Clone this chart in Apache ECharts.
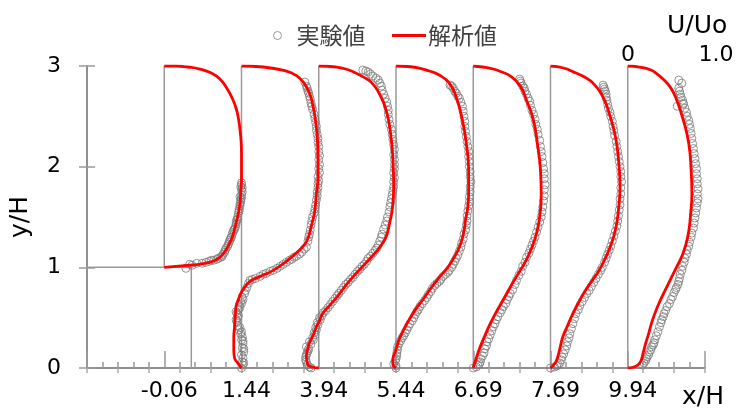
<!DOCTYPE html>
<html><head><meta charset="utf-8">
<script src="https://cdn.jsdelivr.net/npm/echarts@6/dist/echarts.min.js"></script>
<style>html,body{margin:0;padding:0;background:#fff}#c{width:739px;height:414px}</style>
</head><body><div id="c"></div>
<script>
// Station labels (x/H) shown under each profile
const stationLabels = ['-0.06','1.44','3.94','5.44','6.69','7.69','9.94'];
// Experimental data: [U/Uo, y/H]
const exp1 = [[0.28,0.99],[0.36,1.02],[0.49,1.04],[0.58,1.06],[0.64,1.07],[0.70,1.09],[0.73,1.10],[0.76,1.13],[0.79,1.17],[0.82,1.21],[0.84,1.25],[0.87,1.30],[0.89,1.35],[0.92,1.40],[0.93,1.45],[0.95,1.50],[0.96,1.54],[0.97,1.58],[0.98,1.63],[0.99,1.67],[1.00,1.72],[1.00,1.77],[0.99,1.80],[1.00,1.84],[0.98,1.70],[0.94,1.47],[0.90,1.37],[0.85,1.27],
  [0.33,1.03],[0.42,1.04],[0.54,1.05],[0.61,1.07],[0.68,1.08],[0.75,1.11],[0.78,1.15],[0.80,1.19],[0.83,1.23],[0.86,1.29],[0.88,1.33],[0.91,1.38],[0.93,1.43],[0.95,1.48],[0.97,1.56],[0.98,1.61],[0.99,1.65],[1.00,1.69],[1.01,1.75],[1.01,1.79],[1.00,1.82]];
const exp2 = [[0.00,0.00],[0.02,0.03],[0.01,0.06],[0.02,0.10],[0.00,0.13],[0.03,0.16],[0.01,0.20],[0.02,0.24],[0.00,0.28],[0.01,0.31],[-0.01,0.34],[-0.03,0.38],[-0.05,0.42],[-0.06,0.46],[-0.05,0.50],[-0.06,0.54],[-0.04,0.58],[-0.03,0.62],[-0.01,0.66],[0.01,0.70],[0.04,0.74],[0.07,0.80],[0.11,0.87],[0.18,0.89],[0.24,0.91],[0.32,0.94],[0.41,0.97],[0.50,1.01],[0.58,1.05],[0.65,1.08],[0.71,1.11],[0.78,1.15],[0.84,1.20],[0.86,1.26],[0.88,1.33],[0.90,1.42],[0.92,1.50],[0.95,1.58],[0.97,1.67],[0.98,1.75],[0.99,1.83],[0.99,1.90],[1.00,1.98],[1.00,2.07],[1.00,2.15],[0.99,2.24],[0.98,2.32],[0.97,2.40],[0.95,2.48],[0.92,2.57],[0.90,2.63],[0.88,2.70],[0.86,2.75],[0.84,2.80],[0.82,2.84],
  [0.03,0.05],[0.03,0.19],[0.02,0.27],[0.00,0.36],[-0.02,0.40],[-0.07,0.48],[-0.04,0.52],[-0.07,0.56],[-0.02,0.60],[0.00,0.64],[0.02,0.68],[0.05,0.77],[0.09,0.84],[0.14,0.88],[0.28,0.93],[0.37,0.96],[0.46,0.99],[0.54,1.03],[0.62,1.07],[0.68,1.10],[0.75,1.13],[0.81,1.18],[0.87,1.30],[0.89,1.37],[0.91,1.46],[0.94,1.54],[0.96,1.62],[0.98,1.71],[0.99,1.79],[1.00,1.86],[1.01,1.94],[1.01,2.02],[1.01,2.11],[1.00,2.20],[0.99,2.28],[0.97,2.36],[0.96,2.44],[0.94,2.52],[0.91,2.60],[0.89,2.67],[0.87,2.73],[0.85,2.78]];
const exp3 = [[-0.10,0.00],[-0.15,0.03],[-0.17,0.08],[-0.16,0.13],[-0.14,0.17],[-0.16,0.21],[-0.12,0.26],[-0.08,0.30],[-0.06,0.35],[-0.04,0.40],[-0.02,0.45],[0.01,0.50],[0.06,0.55],[0.12,0.60],[0.18,0.66],[0.24,0.72],[0.29,0.77],[0.35,0.83],[0.41,0.88],[0.47,0.93],[0.53,0.98],[0.59,1.03],[0.64,1.09],[0.70,1.14],[0.75,1.19],[0.79,1.26],[0.82,1.33],[0.86,1.42],[0.89,1.50],[0.92,1.60],[0.94,1.68],[0.96,1.76],[0.97,1.85],[0.97,1.94],[0.98,2.02],[0.97,2.12],[0.97,2.22],[0.95,2.32],[0.92,2.42],[0.90,2.52],[0.89,2.60],[0.86,2.68],[0.82,2.76],[0.79,2.83],[0.74,2.88],[0.67,2.92],[0.61,2.95],[0.57,2.96],
  [-0.12,0.01],[-0.16,0.06],[-0.17,0.11],[-0.15,0.15],[-0.13,0.19],[-0.10,0.24],[-0.07,0.28],[-0.05,0.33],[-0.03,0.38],[-0.01,0.43],[0.02,0.48],[0.04,0.52],[0.09,0.57],[0.15,0.63],[0.21,0.69],[0.26,0.74],[0.32,0.80],[0.38,0.85],[0.44,0.90],[0.50,0.96],[0.56,1.01],[0.62,1.06],[0.67,1.11],[0.73,1.17],[0.77,1.22],[0.81,1.30],[0.84,1.38],[0.88,1.46],[0.91,1.55],[0.93,1.64],[0.95,1.72],[0.97,1.80],[0.98,1.89],[0.98,1.98],[0.98,2.07],[0.98,2.17],[0.96,2.27],[0.94,2.37],[0.91,2.47],[0.90,2.56],[0.88,2.64],[0.84,2.72],[0.81,2.80],[0.77,2.86],[0.70,2.90],[0.64,2.94]];
const exp4 = [[0.00,0.00],[-0.03,0.04],[0.00,0.09],[0.01,0.15],[0.02,0.21],[0.06,0.27],[0.10,0.32],[0.14,0.38],[0.18,0.44],[0.23,0.50],[0.27,0.56],[0.31,0.61],[0.37,0.67],[0.42,0.73],[0.47,0.79],[0.53,0.84],[0.58,0.88],[0.64,0.93],[0.69,0.97],[0.74,1.03],[0.78,1.09],[0.82,1.16],[0.85,1.24],[0.88,1.33],[0.91,1.42],[0.92,1.51],[0.94,1.61],[0.95,1.70],[0.96,1.80],[0.96,1.90],[0.95,2.00],[0.94,2.10],[0.93,2.20],[0.91,2.30],[0.89,2.40],[0.88,2.50],[0.86,2.60],[0.82,2.68],[0.78,2.73],[0.74,2.78],[0.70,2.81],
  [0.00,0.02],[-0.01,0.07],[0.01,0.12],[0.02,0.18],[0.04,0.24],[0.08,0.30],[0.12,0.35],[0.16,0.41],[0.21,0.47],[0.25,0.53],[0.29,0.58],[0.34,0.64],[0.40,0.70],[0.45,0.76],[0.50,0.82],[0.56,0.86],[0.61,0.91],[0.67,0.95],[0.72,1.00],[0.76,1.06],[0.80,1.12],[0.84,1.20],[0.87,1.28],[0.90,1.37],[0.92,1.46],[0.93,1.56],[0.95,1.65],[0.96,1.75],[0.97,1.85],[0.96,1.95],[0.95,2.05],[0.94,2.15],[0.92,2.25],[0.90,2.35],[0.89,2.45],[0.87,2.55],[0.84,2.64],[0.80,2.70],[0.76,2.75],[0.72,2.80]];
const exp5 = [[0.00,0.00],[0.06,0.03],[0.09,0.06],[0.12,0.12],[0.15,0.19],[0.18,0.26],[0.22,0.33],[0.26,0.41],[0.30,0.48],[0.35,0.55],[0.39,0.61],[0.44,0.68],[0.48,0.74],[0.54,0.83],[0.59,0.92],[0.64,1.01],[0.69,1.10],[0.74,1.18],[0.78,1.26],[0.82,1.35],[0.86,1.45],[0.89,1.55],[0.91,1.66],[0.92,1.77],[0.92,1.88],[0.91,1.98],[0.89,2.10],[0.87,2.20],[0.84,2.32],[0.81,2.42],[0.78,2.52],[0.74,2.61],[0.71,2.68],[0.67,2.75],[0.64,2.80],[0.61,2.85],[0.60,2.87],
  [0.04,0.01],[0.08,0.04],[0.10,0.09],[0.14,0.15],[0.17,0.22],[0.20,0.29],[0.24,0.37],[0.28,0.44],[0.32,0.51],[0.37,0.58],[0.42,0.64],[0.46,0.71],[0.51,0.78],[0.56,0.87],[0.62,0.96],[0.67,1.05],[0.72,1.14],[0.76,1.22],[0.80,1.30],[0.84,1.40],[0.88,1.50],[0.90,1.60],[0.92,1.71],[0.93,1.82],[0.92,1.93],[0.90,2.04],[0.88,2.15],[0.86,2.26],[0.83,2.37],[0.80,2.47],[0.76,2.56],[0.73,2.65],[0.69,2.72],[0.66,2.78],[0.62,2.83]];
const exp6 = [[0.00,0.00],[0.08,0.02],[0.12,0.05],[0.15,0.11],[0.19,0.18],[0.22,0.26],[0.25,0.34],[0.29,0.44],[0.33,0.54],[0.38,0.62],[0.44,0.70],[0.50,0.77],[0.56,0.85],[0.62,0.93],[0.67,1.00],[0.72,1.09],[0.76,1.17],[0.80,1.26],[0.84,1.36],[0.87,1.46],[0.89,1.57],[0.90,1.68],[0.91,1.79],[0.91,1.90],[0.90,2.00],[0.88,2.10],[0.86,2.20],[0.83,2.31],[0.81,2.40],[0.78,2.50],[0.75,2.58],[0.73,2.66],[0.72,2.72],[0.70,2.77],[0.68,2.81],
  [0.05,0.01],[0.10,0.03],[0.14,0.08],[0.17,0.14],[0.21,0.22],[0.24,0.30],[0.27,0.39],[0.31,0.49],[0.36,0.58],[0.41,0.66],[0.47,0.74],[0.53,0.81],[0.59,0.89],[0.65,0.97],[0.70,1.05],[0.74,1.13],[0.78,1.21],[0.82,1.31],[0.86,1.41],[0.88,1.51],[0.90,1.62],[0.91,1.73],[0.92,1.85],[0.91,1.95],[0.89,2.05],[0.87,2.15],[0.85,2.25],[0.82,2.36],[0.80,2.45],[0.77,2.54],[0.74,2.62],[0.72,2.69],[0.71,2.75],[0.69,2.79]];
const exp7 = [[0.19,0.03],[0.23,0.07],[0.25,0.11],[0.28,0.16],[0.31,0.21],[0.34,0.25],[0.37,0.32],[0.41,0.41],[0.44,0.48],[0.47,0.54],[0.51,0.61],[0.56,0.68],[0.60,0.75],[0.63,0.80],[0.66,0.86],[0.68,0.93],[0.71,1.01],[0.74,1.09],[0.77,1.17],[0.80,1.25],[0.83,1.34],[0.86,1.44],[0.88,1.54],[0.90,1.64],[0.90,1.73],[0.90,1.83],[0.89,1.93],[0.88,2.03],[0.86,2.13],[0.84,2.23],[0.82,2.33],[0.80,2.42],[0.77,2.50],[0.74,2.58],[0.71,2.66],[0.64,2.60],[0.68,2.72],[0.66,2.78],[0.70,2.83],[0.66,2.86],
  [0.21,0.05],[0.24,0.09],[0.27,0.13],[0.30,0.18],[0.33,0.23],[0.35,0.28],[0.39,0.36],[0.43,0.45],[0.46,0.51],[0.49,0.57],[0.54,0.64],[0.58,0.71],[0.62,0.78],[0.65,0.83],[0.67,0.89],[0.70,0.97],[0.73,1.05],[0.76,1.13],[0.79,1.21],[0.82,1.30],[0.85,1.39],[0.87,1.49],[0.89,1.59],[0.91,1.68],[0.91,1.78],[0.90,1.88],[0.89,1.98],[0.87,2.08],[0.85,2.18],[0.83,2.28],[0.81,2.38],[0.79,2.46],[0.76,2.54],[0.72,2.62],[0.69,2.69],[0.72,2.63],[0.67,2.75]];
// Analysis (calculated) profiles: [U/Uo, y/H]
const calc1 = [[0,1.00],[0.15,1.01],[0.30,1.02],[0.45,1.03],[0.58,1.05],[0.66,1.07],[0.72,1.10],[0.77,1.14],[0.82,1.20],[0.87,1.28],[0.90,1.35],[0.93,1.44],[0.96,1.54],[0.98,1.64],[0.99,1.75],[1.00,1.87],[1.00,2.00],[1.00,2.13],[0.995,2.25],[0.98,2.37],[0.96,2.48],[0.93,2.58],[0.88,2.68],[0.81,2.78],[0.72,2.87],[0.61,2.93],[0.46,2.97],[0.30,2.99],[0.15,3.00],[0,3.00]];
const calc2 = [[0,0],[-0.05,0.05],[-0.09,0.10],[-0.10,0.18],[-0.10,0.30],[-0.09,0.41],[-0.08,0.52],[-0.07,0.61],[-0.04,0.68],[-0.01,0.74],[0.04,0.80],[0.11,0.86],[0.24,0.91],[0.41,0.97],[0.58,1.06],[0.72,1.15],[0.82,1.23],[0.87,1.31],[0.90,1.40],[0.93,1.49],[0.95,1.57],[0.97,1.73],[0.99,1.90],[0.99,2.07],[0.98,2.30],[0.95,2.50],[0.92,2.62],[0.88,2.73],[0.80,2.84],[0.70,2.91],[0.58,2.95],[0.28,2.99],[0,3]];
const calc3 = [[0,0],[-0.08,0.01],[-0.14,0.03],[-0.16,0.11],[-0.14,0.20],[-0.12,0.25],[-0.07,0.33],[-0.03,0.41],[0.01,0.47],[0.05,0.54],[0.14,0.62],[0.25,0.72],[0.35,0.82],[0.46,0.92],[0.57,1.01],[0.69,1.11],[0.78,1.19],[0.87,1.30],[0.92,1.45],[0.95,1.57],[0.97,1.80],[0.96,2.07],[0.93,2.33],[0.87,2.57],[0.78,2.73],[0.69,2.83],[0.58,2.89],[0.48,2.93],[0.35,2.97],[0.22,2.99],[0,3]];
const calc4 = [[0,0],[-0.04,0.04],[-0.04,0.08],[0.00,0.18],[0.04,0.28],[0.10,0.38],[0.17,0.48],[0.26,0.59],[0.35,0.68],[0.45,0.79],[0.56,0.90],[0.66,0.99],[0.73,1.07],[0.79,1.15],[0.84,1.24],[0.88,1.36],[0.90,1.47],[0.93,1.60],[0.94,1.73],[0.94,1.97],[0.91,2.23],[0.86,2.46],[0.78,2.69],[0.69,2.83],[0.56,2.91],[0.43,2.95],[0.30,2.98],[0.15,2.995],[0,3]];
const calc5 = [[0,0],[0.04,0.10],[0.09,0.21],[0.15,0.32],[0.22,0.44],[0.30,0.56],[0.39,0.68],[0.47,0.79],[0.56,0.91],[0.64,1.01],[0.71,1.11],[0.77,1.22],[0.82,1.34],[0.85,1.45],[0.87,1.57],[0.88,1.73],[0.87,1.97],[0.83,2.23],[0.78,2.46],[0.69,2.66],[0.61,2.80],[0.48,2.90],[0.37,2.94],[0.26,2.97],[0.12,2.99],[0,3]];
const calc6 = [[0,0],[0.04,0.03],[0.08,0.08],[0.12,0.19],[0.16,0.31],[0.22,0.42],[0.29,0.54],[0.37,0.66],[0.46,0.78],[0.55,0.88],[0.63,0.97],[0.69,1.06],[0.74,1.14],[0.79,1.24],[0.83,1.34],[0.86,1.45],[0.88,1.57],[0.90,1.80],[0.88,2.07],[0.84,2.30],[0.76,2.53],[0.68,2.69],[0.55,2.83],[0.44,2.89],[0.33,2.93],[0.17,2.98],[0,3]];
const calc7 = [[0,0],[0.08,0.01],[0.13,0.03],[0.17,0.07],[0.20,0.15],[0.23,0.24],[0.27,0.34],[0.31,0.45],[0.36,0.56],[0.42,0.67],[0.49,0.78],[0.56,0.89],[0.63,1.00],[0.70,1.11],[0.75,1.22],[0.79,1.36],[0.81,1.50],[0.83,1.73],[0.82,1.97],[0.79,2.23],[0.72,2.46],[0.62,2.69],[0.55,2.79],[0.47,2.86],[0.38,2.92],[0.30,2.96],[0.15,2.99],[0,3]];
// Geometry guide lines (station baselines and step outline), in axis units
const guideLines = [
  [[1,1],[1,3]],[[2,0],[2,3]],[[3,0],[3,3]],[[4,0],[4,3]],[[5,0],[5,3]],[[6,0],[6,3]],[[7,0],[7,3]],
  [[0,1],[1.35,1],[1.35,0]]
];

const expAll = [exp1,exp2,exp3,exp4,exp5,exp6,exp7];
const calcAll = [calc1,calc2,calc3,calc4,calc5,calc6,calc7];
const numFont = 'DejaVu Sans';
const series = [];
guideLines.forEach(g => series.push({
  type:'line', data:g, symbol:'none', silent:true, z:1,
  lineStyle:{color:'#9a9a9a', width:1.5}
}));
expAll.forEach((arr,i) => series.push({
  type:'scatter', name:'実験値', z:2, symbol:'circle', symbolSize:8,
  data: arr.map(([u,y]) => [i+1+u, y]),
  itemStyle:{color:'rgba(255,255,255,0)', borderColor:'#7a7a7a', borderWidth:1}
}));
calcAll.forEach((arr,i) => series.push({
  type:'line', name:'解析値', z:3, symbol:'none', smooth:0.5,
  data: arr.map(([u,y]) => [i+1+u, y]),
  lineStyle:{color:'#ff0000', width:2.8}, itemStyle:{color:'#ff0000'}
}));

const chart = echarts.init(document.getElementById('c'));
chart.setOption({
  animation:false,
  backgroundColor:'#fff',
  grid:{left:83, right:34, top:66, bottom:46},
  legend:[
    {left:268, top:19, itemWidth:8, itemHeight:8, selectedMode:false,
     data:[{name:'実験値', icon:'circle', itemStyle:{color:'#fff', borderColor:'#808080', borderWidth:1}}],
     textStyle:{fontFamily:'Noto Sans CJK JP', fontSize:23, color:'#404040', padding:[0,0,0,10]}},
    {left:387, top:19, itemWidth:34, itemHeight:3, selectedMode:false,
     data:[{name:'解析値', icon:'rect', itemStyle:{color:'#ff0000'}}],
     textStyle:{fontFamily:'Noto Sans CJK JP', fontSize:23, color:'#404040', padding:[0,0,0,-3]}}
  ],
  xAxis:[
    {type:'value', position:'bottom', min:0, max:8, interval:1,
     axisLine:{show:true, lineStyle:{color:'#888', width:1.5}},
     axisTick:{show:true, inside:true, length:17, lineStyle:{color:'#999', width:1.5}},
     minorTick:{show:true, splitNumber:5, length:6, lineStyle:{color:'#999', width:1.5}},
     splitLine:{show:false},
     axisLabel:{margin:12, fontFamily:numFont, fontSize:22, color:'#000', padding:[0,0,0,10],
       formatter:v => { const k=Math.round(v); return (Math.abs(v-k)<1e-6 && k>=1 && k<=7) ? stationLabels[k-1] : ''; }}},
    {type:'value', position:'top', min:0, max:8, interval:0.4,
     axisLine:{show:true, lineStyle:{color:'#888', width:1.5}},
     axisTick:{show:true, inside:true, length:5, lineStyle:{color:'#aaa', width:1.5}},
     axisLabel:{show:false}, splitLine:{show:false}}
  ],
  yAxis:[
    {type:'value', position:'left', min:0, max:3, interval:1,
     name:'y/H', nameLocation:'middle', nameGap:54, nameRotate:90,
     nameTextStyle:{fontFamily:numFont, fontSize:25, color:'#000'},
     axisLine:{show:true, lineStyle:{color:'#888', width:1.5}},
     axisTick:{show:true, inside:true, length:8, lineStyle:{color:'#999', width:1.5}},
     axisLabel:{margin:26, fontFamily:numFont, fontSize:22, color:'#000'},
     splitLine:{show:false}},
    {type:'value', position:'right', min:0, max:3, interval:1,
     axisLine:{show:true, lineStyle:{color:'#888', width:1.5}},
     axisTick:{show:true, inside:true, length:8, lineStyle:{color:'#999', width:1.5}},
     axisLabel:{show:false}, splitLine:{show:false}}
  ],
  graphic:[
    {type:'text', left:682, top:385, style:{text:'x/H', font:'25px "DejaVu Sans"', fill:'#000'}},
    {type:'text', left:667, top:14, style:{text:'U/Uo', font:'25px "DejaVu Sans"', fill:'#000'}},
    {type:'text', x:628, y:55, style:{text:'0', font:'22px "DejaVu Sans"', fill:'#000', align:'center', verticalAlign:'middle'}},
    {type:'text', x:716, y:55, style:{text:'1.0', font:'22px "DejaVu Sans"', fill:'#000', align:'center', verticalAlign:'middle'}}
  ],
  series: series
});
</script></body></html>
